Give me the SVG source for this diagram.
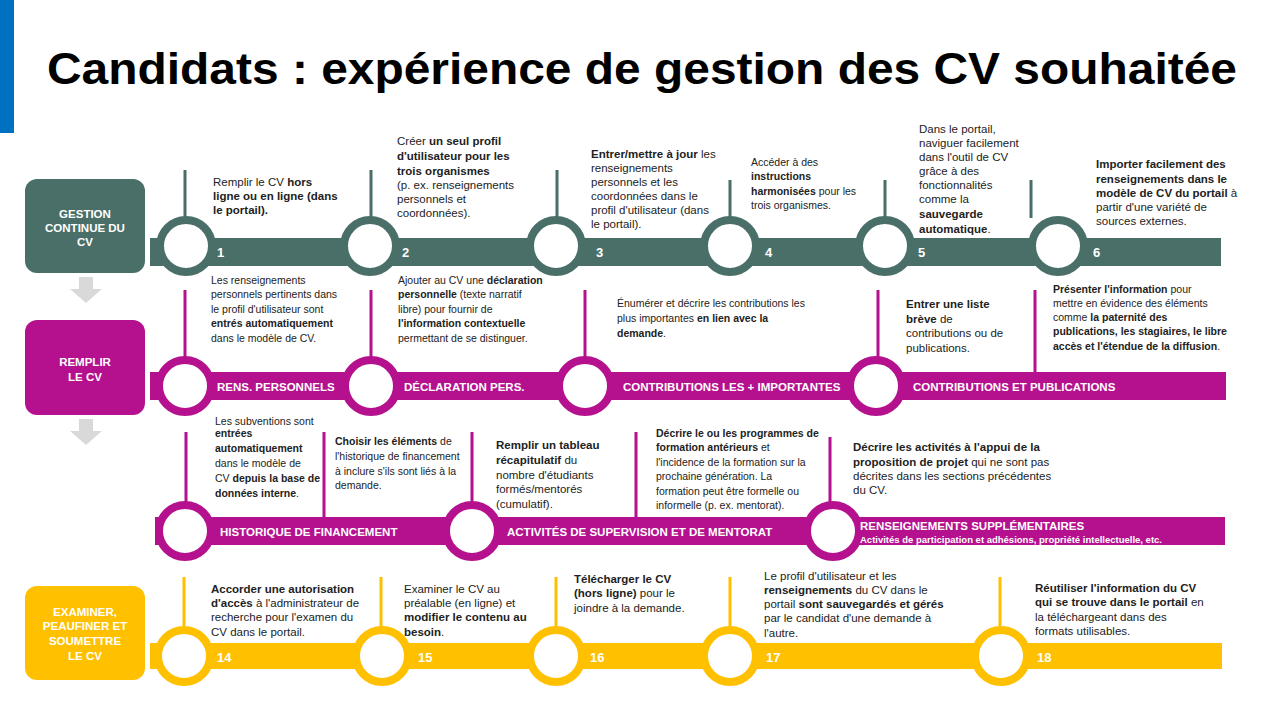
<svg xmlns="http://www.w3.org/2000/svg" width="1280" height="720" viewBox="0 0 1280 720">
<style>
text{font-family:"Liberation Sans",Arial,sans-serif;fill:#222}
.t{font-size:11.5px}
.s{font-size:10.5px}
.b{font-weight:bold}
.w{fill:#fff;font-weight:bold;font-size:11.5px}
.box{font-size:11.5px;fill:#fff;font-weight:bold;text-anchor:middle}
.num{fill:#fff;font-weight:bold;font-size:13px}
.g{fill:#4A6F69}.gs{stroke:#4A6F69}
.m{fill:#B5118F}.ms{stroke:#B5118F}
.y{fill:#FFC000}.ys{stroke:#FFC000}
.ring{fill:#fff;stroke-width:8}
.ln{stroke-width:3}
</style>
<rect width="1280" height="720" fill="#fff"/>
<rect x="0" y="0" width="14" height="133" fill="#0070C0"/>
<text x="642" y="84" text-anchor="middle" font-size="44" font-weight="bold" fill="#000" textLength="1190" lengthAdjust="spacingAndGlyphs" style="fill:#000">Candidats : expérience de gestion des CV souhaitée</text>

<g id="connectors">
<path d="M79 277h14v12h9l-16 14-16-14h9z" fill="#D9D9D9"/>
<path d="M79 419h14v12h9l-16 14-16-14h9z" fill="#D9D9D9"/>
<g class="gs ln"><path d="M185 170v48M371 170v48M557 170v48M730 180v38M885 180v38M1031 180v38"/></g>
<g class="ms ln"><path d="M185 290v68M371 290v68M585 290v68M878 290v70M1035 290v82"/></g>
<g class="ms ln"><path d="M186 432v73M324 432v85M472 432v71M636 432v85M830 437v68"/></g>
<g class="ys ln"><path d="M184 577v52M381 577v52M556 577v52M730 577v52M1000 577v52"/></g>
</g>

<g id="row1">
<rect x="25" y="179" width="120" height="94" rx="12" class="g"/>
<text class="box"><tspan x="85" y="218">GESTION</tspan><tspan x="85" y="232">CONTINUE  DU</tspan><tspan x="85" y="246">CV</tspan></text>
<rect x="150" y="238" width="1071" height="28" class="g"/>
<g class="gs ring"><circle cx="186" cy="246" r="26"/><circle cx="370" cy="246" r="26"/><circle cx="556" cy="246" r="26"/><circle cx="730" cy="246" r="26"/><circle cx="885" cy="246" r="26"/><circle cx="1058" cy="246" r="26"/></g>
<text class="num" y="257"><tspan x="217">1</tspan><tspan x="402">2</tspan><tspan x="596">3</tspan><tspan x="765">4</tspan><tspan x="918">5</tspan><tspan x="1093">6</tspan></text>
</g>

<g id="row1-text" class="t">
<text><tspan x="213" y="186">Remplir le CV <tspan class="b">hors</tspan></tspan><tspan x="213" y="200" class="b">ligne ou en ligne (dans</tspan><tspan x="213" y="214" class="b">le portail).</tspan></text>
<text><tspan x="397" y="145">Créer <tspan class="b">un seul profil</tspan></tspan><tspan x="397" y="160" class="b">d'utilisateur pour les</tspan><tspan x="397" y="175" class="b">trois organismes</tspan><tspan x="397" y="189">(p. ex. renseignements</tspan><tspan x="397" y="203">personnels et</tspan><tspan x="397" y="217">coordonnées).</tspan></text>
<text><tspan x="591" y="158"><tspan class="b">Entrer/mettre à jour</tspan> les</tspan><tspan x="591" y="172">renseignements</tspan><tspan x="591" y="186">personnels et les</tspan><tspan x="591" y="200">coordonnées dans le</tspan><tspan x="591" y="214">profil d'utilisateur (dans</tspan><tspan x="591" y="228">le portail).</tspan></text>
<text class="s"><tspan x="751" y="166">Accéder à des</tspan><tspan x="751" y="180" class="b">instructions</tspan><tspan x="751" y="195"><tspan class="b">harmonisées</tspan> pour les</tspan><tspan x="751" y="209">trois organismes.</tspan></text>
<text><tspan x="919" y="133">Dans le portail,</tspan><tspan x="919" y="147">naviguer facilement</tspan><tspan x="919" y="161">dans l'outil de CV</tspan><tspan x="919" y="175">grâce à des</tspan><tspan x="919" y="189">fonctionnalités</tspan><tspan x="919" y="203">comme la</tspan><tspan x="919" y="218" class="b">sauvegarde</tspan><tspan x="919" y="233"><tspan class="b">automatique</tspan>.</tspan></text>
<text><tspan x="1096" y="168" class="b">Importer facilement des</tspan><tspan x="1096" y="183" class="b">renseignements dans le</tspan><tspan x="1096" y="197"><tspan class="b">modèle de CV du portail</tspan> à</tspan><tspan x="1096" y="211">partir d'une variété de</tspan><tspan x="1096" y="225">sources externes.</tspan></text>
</g>

<g id="row2">
<rect x="25" y="320" width="120" height="95" rx="12" class="m"/>
<text class="box"><tspan x="85" y="366">REMPLIR</tspan><tspan x="85" y="381">LE  CV</tspan></text>
<rect x="150" y="372" width="1076" height="28" class="m"/>
<g class="ms ring"><circle cx="185" cy="386" r="26"/><circle cx="371" cy="386" r="26"/><circle cx="585" cy="386" r="26"/><circle cx="876" cy="386" r="26"/></g>
<text class="w" y="391"><tspan x="217">RENS.  PERSONNELS</tspan><tspan x="404">DÉCLARATION   PERS.</tspan><tspan x="623">CONTRIBUTIONS   LES  + IMPORTANTES</tspan><tspan x="913">CONTRIBUTIONS   ET  PUBLICATIONS</tspan></text>
</g>

<g id="row2-text" class="s">
<text><tspan x="211" y="284">Les renseignements</tspan><tspan x="211" y="298">personnels pertinents dans</tspan><tspan x="211" y="313">le profil d'utilisateur  sont</tspan><tspan x="211" y="327" class="b">entrés automatiquement</tspan><tspan x="211" y="342">dans le modèle de CV.</tspan></text>
<text><tspan x="398" y="284">Ajouter au CV une <tspan class="b">déclaration</tspan></tspan><tspan x="398" y="298"><tspan class="b">personnelle</tspan>  (texte narratif</tspan><tspan x="398" y="313">libre) pour fournir de</tspan><tspan x="398" y="327" class="b">l'information  contextuelle</tspan><tspan x="398" y="342">permettant de se distinguer.</tspan></text>
<text><tspan x="617" y="307">Énumérer et décrire les contributions les</tspan><tspan x="617" y="322">plus importantes <tspan class="b">en lien avec la</tspan></tspan><tspan x="617" y="337"><tspan class="b">demande</tspan>.</tspan></text>
<text class="t"><tspan x="906" y="308" class="b">Entrer une liste</tspan><tspan x="906" y="323"><tspan class="b">brève</tspan> de</tspan><tspan x="906" y="337">contributions ou de</tspan><tspan x="906" y="352">publications.</tspan></text>
<text><tspan x="1053" y="293"><tspan class="b">Présenter l'information</tspan>  pour</tspan><tspan x="1053" y="307">mettre en évidence des éléments</tspan><tspan x="1053" y="321">comme <tspan class="b">la paternité des</tspan></tspan><tspan x="1053" y="335" class="b">publications,  les stagiaires, le libre</tspan><tspan x="1053" y="350"><tspan class="b">accès et l'étendue  de la diffusion</tspan>.</tspan></text>
</g>

<g id="row3">
<rect x="155" y="517" width="1070" height="28" class="m"/>
<g class="ms ring"><circle cx="185" cy="531" r="26"/><circle cx="472" cy="531" r="26"/><circle cx="833" cy="531" r="26"/></g>
<text class="w" y="536"><tspan x="220">HISTORIQUE  DE  FINANCEMENT</tspan><tspan x="507">ACTIVITÉS  DE  SUPERVISION  ET  DE  MENTORAT</tspan></text>
<text class="w"><tspan x="860" y="530">RENSEIGNEMENTS   SUPPLÉMENTAIRES</tspan><tspan x="860" y="543" font-size="9.5">Activités de participation et adhésions, propriété intellectuelle, etc.</tspan></text>
</g>

<g id="row3-text" class="s">
<text><tspan x="215" y="425">Les subventions sont</tspan><tspan x="215" y="437" class="b">entrées</tspan><tspan x="215" y="452" class="b">automatiquement</tspan><tspan x="215" y="467">dans le modèle de</tspan><tspan x="215" y="482">CV <tspan class="b">depuis  la base de</tspan></tspan><tspan x="215" y="497"><tspan class="b">données interne</tspan>.</tspan></text>
<text><tspan x="335" y="445"><tspan class="b">Choisir les éléments</tspan> de</tspan><tspan x="335" y="460">l'historique de financement</tspan><tspan x="335" y="475">à inclure s'ils sont liés à la</tspan><tspan x="335" y="489">demande.</tspan></text>
<text class="t"><tspan x="496" y="449" class="b">Remplir un tableau</tspan><tspan x="496" y="464"><tspan class="b">récapitulatif</tspan> du</tspan><tspan x="496" y="479">nombre d'étudiants</tspan><tspan x="496" y="493">formés/mentorés</tspan><tspan x="496" y="508">(cumulatif).</tspan></text>
<text><tspan x="656" y="437" class="b">Décrire le ou les programmes de</tspan><tspan x="656" y="451"><tspan class="b">formation antérieurs</tspan>  et</tspan><tspan x="656" y="466">l'incidence de la formation sur la</tspan><tspan x="656" y="480">prochaine génération. La</tspan><tspan x="656" y="495">formation peut être formelle ou</tspan><tspan x="656" y="509">informelle (p. ex. mentorat).</tspan></text>
<text class="t"><tspan x="853" y="451" class="b">Décrire les activités à l'appui de la</tspan><tspan x="853" y="466"><tspan class="b">proposition  de projet</tspan> qui ne sont pas</tspan><tspan x="853" y="480">décrites dans les sections précédentes</tspan><tspan x="853" y="494">du CV.</tspan></text>
</g>

<g id="row4">
<rect x="25" y="586" width="120" height="94" rx="12" class="y"/>
<text class="box"><tspan x="85" y="616">EXAMINER,</tspan><tspan x="85" y="630">PEAUFINER   ET</tspan><tspan x="85" y="645">SOUMETTRE</tspan><tspan x="85" y="660">LE  CV</tspan></text>
<rect x="150" y="643" width="1072" height="26" class="y"/>
<g class="ys ring"><circle cx="184" cy="656" r="26"/><circle cx="382" cy="656" r="26"/><circle cx="556" cy="656" r="26"/><circle cx="730" cy="656" r="26"/><circle cx="1001" cy="656" r="26"/></g>
<text class="num" y="662"><tspan x="217">14</tspan><tspan x="418">15</tspan><tspan x="590">16</tspan><tspan x="766">17</tspan><tspan x="1037">18</tspan></text>
</g>

<g id="row4-text" class="t">
<text><tspan x="211" y="593" class="b">Accorder une autorisation</tspan><tspan x="211" y="607"><tspan class="b">d'accès</tspan> à l'administrateur de</tspan><tspan x="211" y="621">recherche pour l'examen du</tspan><tspan x="211" y="636">CV dans le portail.</tspan></text>
<text><tspan x="404" y="593">Examiner le CV au</tspan><tspan x="404" y="607">préalable (en ligne) et</tspan><tspan x="404" y="621" class="b">modifier le contenu au</tspan><tspan x="404" y="636"><tspan class="b">besoin</tspan>.</tspan></text>
<text><tspan x="574" y="583" class="b">Télécharger le CV</tspan><tspan x="574" y="597"><tspan class="b">(hors ligne)</tspan> pour le</tspan><tspan x="574" y="612">joindre à la demande.</tspan></text>
<text><tspan x="764" y="580">Le profil d'utilisateur et les</tspan><tspan x="764" y="594"><tspan class="b">renseignements</tspan> du CV dans le</tspan><tspan x="764" y="608">portail <tspan class="b">sont sauvegardés et gérés</tspan></tspan><tspan x="764" y="622">par le candidat d'une demande à</tspan><tspan x="764" y="637">l'autre.</tspan></text>
<text><tspan x="1035" y="592" class="b">Réutiliser l'information du CV</tspan><tspan x="1035" y="606"><tspan class="b">qui se trouve dans le portail</tspan> en</tspan><tspan x="1035" y="621">la téléchargeant dans des</tspan><tspan x="1035" y="635">formats utilisables.</tspan></text>
</g>
</svg>
